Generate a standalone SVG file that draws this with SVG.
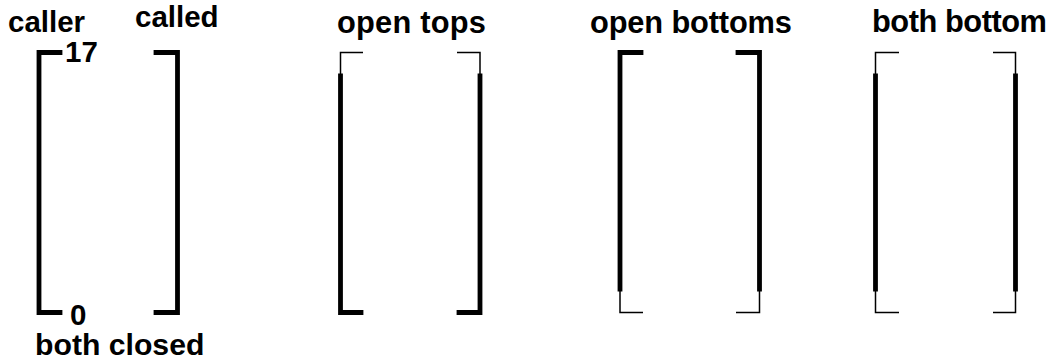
<svg xmlns="http://www.w3.org/2000/svg" width="1052" height="360" viewBox="0 0 1052 360">
<style>
text{font-family:"Liberation Sans",Arial,sans-serif;font-weight:bold;font-size:29.5px;fill:#000}
text.h{font-size:30.8px}
.k{fill:none;stroke:#000;stroke-width:4.8;stroke-linecap:square;stroke-linejoin:miter}
.t{fill:none;stroke:#000;stroke-width:1.5;stroke-linejoin:miter}
</style>
<rect width="1052" height="360" fill="#fff"/>
<g id="both-closed">
<text x="8" y="32">caller</text>
<text x="135" y="27">called</text>
<text x="65" y="62">17</text>
<text x="70" y="325">0</text>
<text x="35" y="355" style="font-size:30.2px">both closed</text>
<g id="connectors-1">
<path class="k" d="M60,52.5 H39 V312.5 H60"/>
<path class="k" d="M156,52.5 H177.5 V312.5 H156"/>
</g>
</g>
<g id="open-tops">
<text class="h" x="337" y="33" textLength="149">open tops</text>
<g id="connectors-2">
<path class="t" d="M363,52.5 H340.5 V76"/>
<path class="k" d="M340.5,76 V312.5 H361"/>
<path class="t" d="M457,52.5 H480 V76"/>
<path class="k" d="M480,76 V312.5 H459"/>
</g>
</g>
<g id="open-bottoms">
<text class="h" x="590" y="33" textLength="202">open bottoms</text>
<g id="connectors-3">
<path class="k" d="M641,52.5 H620 V289"/>
<path class="t" d="M620,289 V312.5 H643"/>
<path class="k" d="M738,52.5 H759.5 V289"/>
<path class="t" d="M759.5,289 V312.5 H736"/>
</g>
</g>
<g id="both-bottom">
<text class="h" x="872" y="32" textLength="175">both bottom</text>
<g id="connectors-4">
<path class="t" d="M899,52.5 H875.5 V76"/>
<path class="k" d="M875.5,76 V289"/>
<path class="t" d="M875.5,289 V312.5 H899"/>
<path class="t" d="M993,52.5 H1015.5 V76"/>
<path class="k" d="M1015.5,76 V289"/>
<path class="t" d="M1015.5,289 V312.5 H993"/>
</g>
</g>
</svg>
